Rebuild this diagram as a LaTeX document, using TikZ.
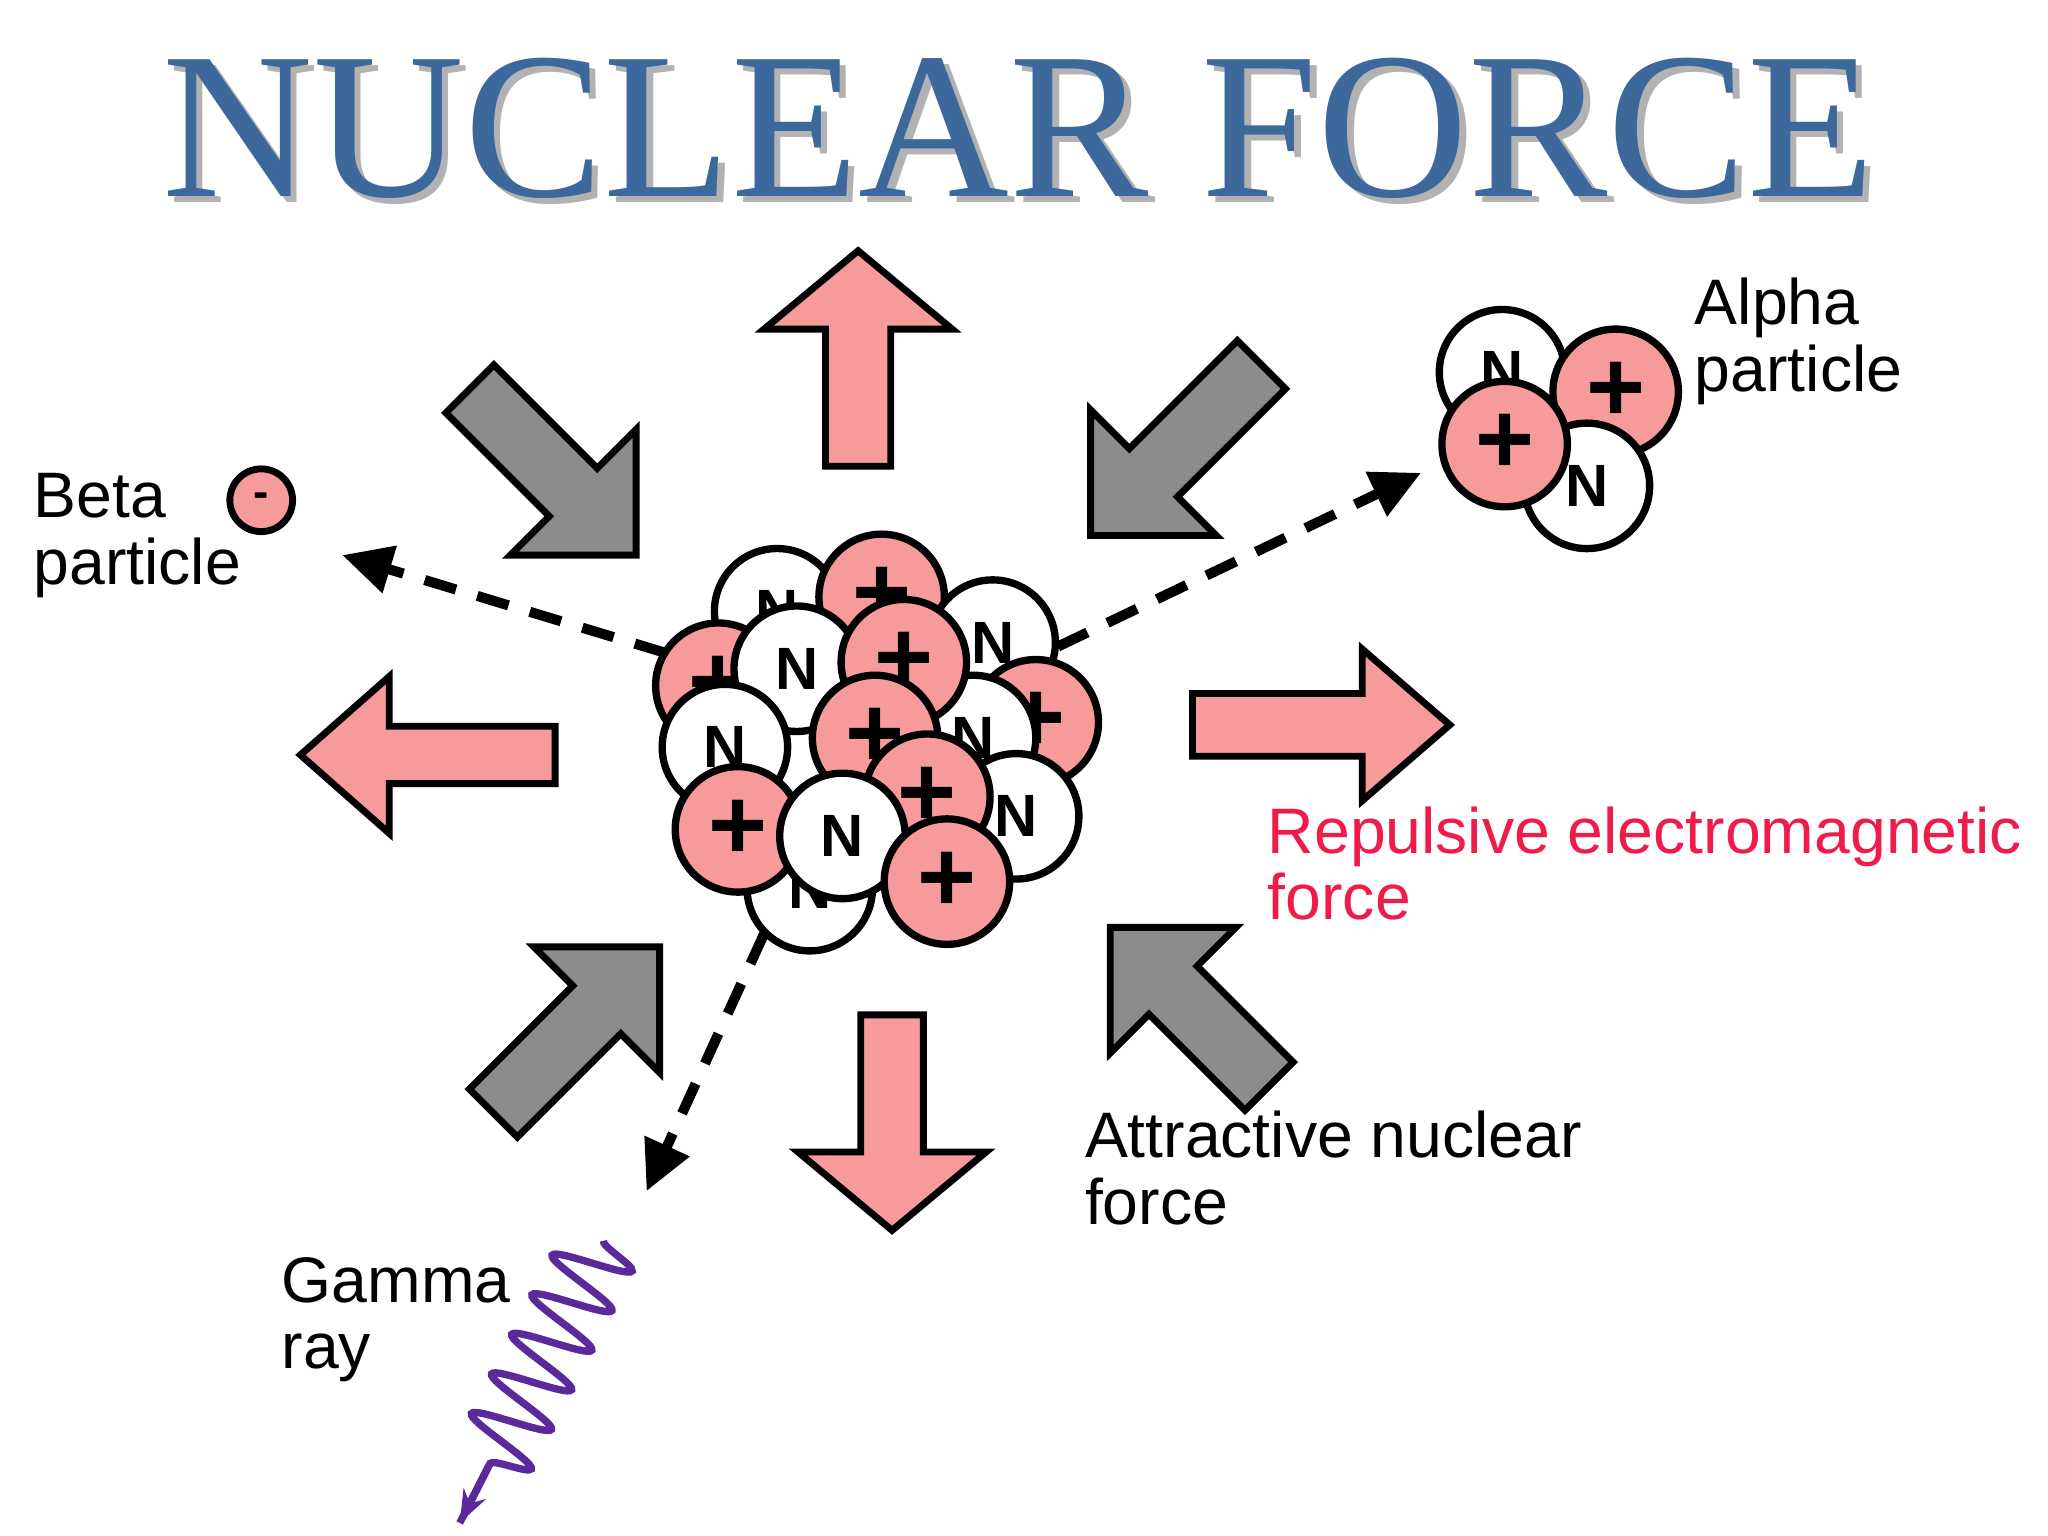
\documentclass[tikz,border=0pt]{standalone}
\usepackage{fontspec}
\setmainfont{Liberation Sans}
\newfontfamily\titlefont{Liberation Serif}
\usetikzlibrary{arrows.meta,decorations.pathmorphing,calc}
\definecolor{pinkf}{HTML}{F79A9C}
\definecolor{grayf}{HTML}{8C8C8C}
\definecolor{titleblue}{HTML}{3C689C}
\definecolor{repred}{HTML}{EE1B4B}
\definecolor{gammav}{HTML}{5A2A9A}
\tikzset{
 ball/.style={circle,draw=black,line width=1.6pt,minimum size=0.96cm,inner sep=0pt,font=\bfseries\fontsize{13}{13}\selectfont},
 pball/.style={ball,fill=pinkf},
 nball/.style={ball,fill=white},
 lbl/.style={align=left,anchor=north west,font=\fontsize{14}{14.5}\selectfont,inner sep=0pt},
 dashln/.style={line width=2.2pt,dash pattern=on 0.25cm off 0.17cm,-{Triangle[length=0.38cm,width=0.36cm]}},
 blk/.style={draw=black,line width=1.5pt,line join=miter}
}
\newcommand{\plussign}{\textbf{\fontsize{22}{22}\selectfont +}}
\newcommand{\blockarrow}[8]{% x y angle T L h w fill
 \begin{scope}[shift={(#1,#2)},rotate=#3]
 \draw[blk,fill=#8] (0,0)--(-#5,#6)--(-#5,#7)--(-#4,#7)--(-#4,-#7)--(-#5,-#7)--(-#5,-#6)--cycle;
 \end{scope}}
\begin{document}
\begin{tikzpicture}[x=0.01cm,y=-0.01cm]
\useasboundingbox (0,0) rectangle (1568,1176);
% title
\node[font=\titlefont\fontsize{45.5}{45}\selectfont,text=gray!60] at (785,103) {NUCLEAR FORCE};
\node[font=\titlefont\fontsize{45.5}{45}\selectfont,text=titleblue] (title) at (780,98) {NUCLEAR FORCE};
% pink arrows
\blockarrow{657}{192}{90}{165}{60}{72}{25}{pinkf}
\blockarrow{683}{942}{-90}{165}{60}{72}{24}{pinkf}
\blockarrow{230}{578}{180}{195}{68}{60}{22}{pinkf}
\blockarrow{1110}{555}{0}{197}{67}{58}{24}{pinkf}
% gray arrows
\blockarrow{487}{425}{-45}{180}{68}{68}{26}{grayf}
\blockarrow{835}{410}{-135}{185}{68}{68}{26}{grayf}
\blockarrow{505}{725}{45}{180}{68}{68}{26}{grayf}
\blockarrow{850}{710}{135}{172}{68}{68}{26}{grayf}
% dashed paths
\coordinate (bstart) at (510,500);
\coordinate (bend) at (262,425);
\draw[dashln] (bstart) -- (bend);
\coordinate (astart) at (810,495);
\coordinate (aend) at (1088,362);
\draw[dashln] (astart) -- (aend);
\coordinate (gstart) at (585,715);
\coordinate (gend) at (495,912);
\draw[dashln] (gstart) -- (gend);
% nucleus
\node[nball] (n1) at (595,468) {N};
\node[pball] (p1) at (675,457) {\plussign};
\node[nball] (n2) at (760,492) {N};
\node[pball] (p2) at (550,525) {\plussign};
\node[pball] (p3) at (793,553) {\plussign};
\node[nball] (n3) at (745,565) {N};
\node[nball] (n4) at (778,625) {N};
\node[nball] (n5) at (620,680) {N};
\node[nball] (n6) at (610,512) {N};
\node[pball] (p4) at (692,507) {\plussign};
\node[nball] (n7) at (555,572) {N};
\node[pball] (p5) at (670,565) {\plussign};
\node[pball] (p6) at (710,610) {\plussign};
\node[pball] (p7) at (565,635) {\plussign};
\node[nball] (n8) at (645,640) {N};
\node[pball] (p8) at (725,675) {\plussign};
% alpha particle
\node[nball] (an1) at (1150,285) {N};
\node[pball] (ap1) at (1237,300) {\plussign};
\node[nball] (an2) at (1215,372) {N};
\node[pball] (ap2) at (1152,340) {\plussign};
% beta particle
\node[circle,draw,line width=1.5pt,fill=pinkf,minimum size=0.48cm,inner sep=0pt,font=\bfseries] (beta) at (200,383) {-};
% gamma
\coordinate (wstart) at (462,950);
\coordinate (wend) at (352,1166);
\draw[gammav,line width=1.6pt,decorate,decoration={snake,amplitude=0.3cm,segment length=0.34cm,post length=0.5cm}] (wstart) -- (wend);
\draw[gammav,line width=1.6pt,-{Stealth[length=0.25cm]}] ($(wend)!0.5cm!(wstart)$) -- (wend);
% labels
\node[lbl] (lb) at (25,362) {Beta\\particle};
\node[lbl] (la) at (1297,212) {Alpha\\particle};
\node[lbl] (lg) at (215,962) {Gamma\\ray};
\node[lbl,text=repred] (lr) at (970,617) {Repulsive electromagnetic\\force};
\node[lbl] (lat) at (830,850) {Attractive nuclear\\force};
\end{tikzpicture}
\end{document}
